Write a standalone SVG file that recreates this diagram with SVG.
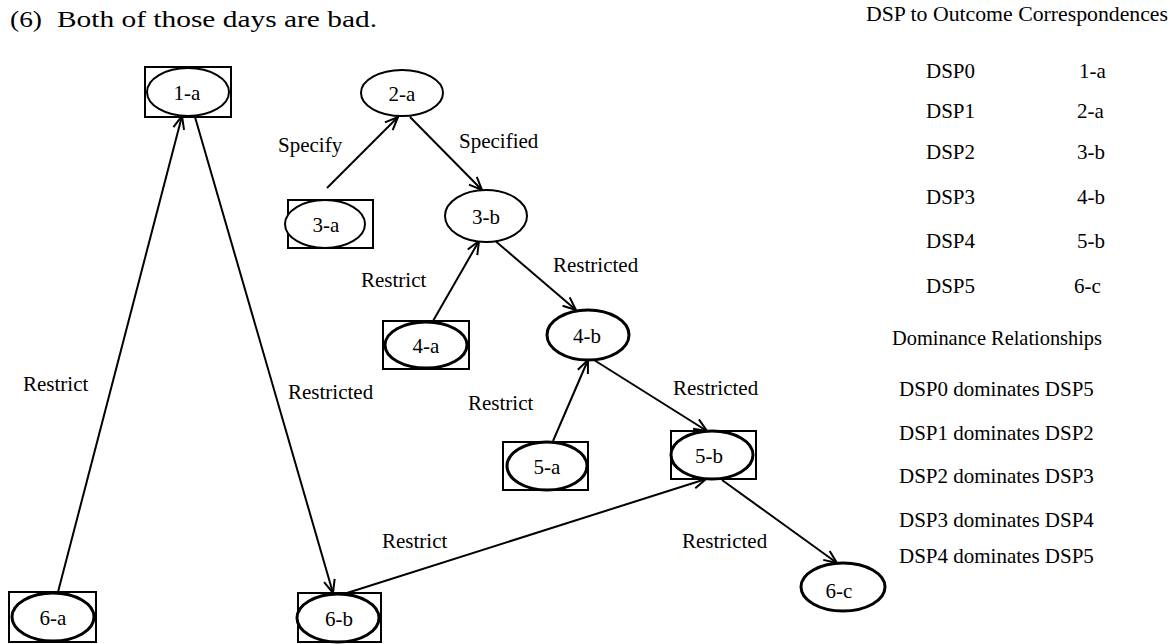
<svg xmlns="http://www.w3.org/2000/svg" width="1170" height="644" viewBox="0 0 1170 644" font-family="'Liberation Serif', 'DejaVu Serif', 'Times New Roman', Times, serif">
<style>
.t{font-size:23px}
.lbl{font-size:21px}
.nl{font-size:21px;text-anchor:middle}
.tab{font-size:21px}
.box{fill:none;stroke:#000;stroke-width:2}
.e1{fill:#fff;stroke:#000;stroke-width:2}
.e2{fill:#fff;stroke:#000;stroke-width:3}
.edge{stroke:#000;stroke-width:2;fill:none;marker-end:url(#arr)}
</style>
<defs>
<marker id="arr" viewBox="-14 -8 16 16" refX="0" refY="0" markerWidth="16" markerHeight="16" markerUnits="userSpaceOnUse" orient="auto">
<path d="M-13,-5.5 L0,0 L-13,5.5" fill="none" stroke="#000" stroke-width="2"/>
</marker>
</defs>
<rect width="1170" height="644" fill="#fff"/>
<text class="t" y="27"><tspan x="10" textLength="32" lengthAdjust="spacingAndGlyphs">(6)</tspan><tspan x="57" textLength="320" lengthAdjust="spacingAndGlyphs">Both of those days are bad.</tspan></text>

<g id="connectors">
<line class="edge" x1="58" y1="592" x2="182" y2="116"/>
<line class="edge" x1="195" y1="117" x2="333" y2="593"/>
<line class="edge" x1="347" y1="593" x2="706" y2="479"/>
<line class="edge" x1="327" y1="188" x2="398" y2="117"/>
<line class="edge" x1="410" y1="117" x2="482" y2="190"/>
<line class="edge" x1="433" y1="321" x2="479" y2="241"/>
<line class="edge" x1="493" y1="239" x2="576" y2="310"/>
<line class="edge" x1="553" y1="441" x2="588" y2="360"/>
<line class="edge" x1="594" y1="360" x2="707" y2="431"/>
<line class="edge" x1="722" y1="480" x2="837" y2="563"/>
<text class="lbl" x="23" y="391">Restrict</text>
<text class="lbl" x="288" y="399">Restricted</text>
<text class="lbl" x="382" y="548">Restrict</text>
<text class="lbl" x="278" y="152">Specify</text>
<text class="lbl" x="459" y="148">Specified</text>
<text class="lbl" x="361" y="287">Restrict</text>
<text class="lbl" x="553" y="272">Restricted</text>
<text class="lbl" x="468" y="410">Restrict</text>
<text class="lbl" x="673" y="395">Restricted</text>
<text class="lbl" x="682" y="548">Restricted</text>
</g>

<g id="n1a"><rect class="box" x="145" y="67" width="86" height="50"/><ellipse class="e1" cx="188" cy="92" rx="41" ry="24"/><text class="nl" x="187" y="100">1-a</text></g>
<g id="n2a"><ellipse class="e1" cx="402" cy="93" rx="41" ry="23"/><text class="nl" x="402" y="101">2-a</text></g>
<g id="n3a"><rect class="box" x="288" y="200" width="85" height="48"/><ellipse class="e1" cx="325" cy="224" rx="40" ry="24"/><text class="nl" x="326" y="232">3-a</text></g>
<g id="n3b"><ellipse class="e1" cx="486" cy="216" rx="41" ry="26"/><text class="nl" x="486" y="224">3-b</text></g>
<g id="n4a"><rect class="box" x="383" y="321" width="86" height="48"/><ellipse class="e2" cx="426" cy="345" rx="41" ry="23"/><text class="nl" x="426" y="353">4-a</text></g>
<g id="n4b"><ellipse class="e2" cx="588" cy="335" rx="41" ry="25"/><text class="nl" x="587" y="343">4-b</text></g>
<g id="n5a"><rect class="box" x="503" y="442" width="85" height="48"/><ellipse class="e2" cx="547" cy="466" rx="40" ry="24"/><text class="nl" x="547" y="474">5-a</text></g>
<g id="n5b"><rect class="box" x="671" y="431" width="85" height="48"/><ellipse class="e2" cx="712" cy="455" rx="41" ry="24"/><text class="nl" x="709" y="463">5-b</text></g>
<g id="n6c"><ellipse class="e2" cx="843" cy="587" rx="42" ry="24"/><text class="nl" x="839" y="598">6-c</text></g>
<g id="n6a"><rect class="box" x="9" y="592" width="87" height="50"/><ellipse class="e2" cx="53" cy="617" rx="41" ry="24"/><text class="nl" x="53" y="625">6-a</text></g>
<g id="n6b"><rect class="box" x="298" y="593" width="83" height="49"/><ellipse class="e2" cx="338" cy="618" rx="41" ry="24"/><text class="nl" x="339" y="626">6-b</text></g>

<g id="legend">
<text class="tab" x="866" y="21" textLength="302" lengthAdjust="spacingAndGlyphs">DSP to Outcome Correspondences</text>
<text class="tab" x="926" y="78">DSP0</text><text class="tab" x="1079" y="78">1-a</text>
<text class="tab" x="926" y="118">DSP1</text><text class="tab" x="1077" y="118">2-a</text>
<text class="tab" x="926" y="159">DSP2</text><text class="tab" x="1077" y="159">3-b</text>
<text class="tab" x="926" y="204">DSP3</text><text class="tab" x="1077" y="204">4-b</text>
<text class="tab" x="926" y="248">DSP4</text><text class="tab" x="1077" y="248">5-b</text>
<text class="tab" x="926" y="293">DSP5</text><text class="tab" x="1074" y="293">6-c</text>
<text class="tab" x="892" y="345" textLength="210" lengthAdjust="spacingAndGlyphs">Dominance Relationships</text>
<text class="tab" x="899" y="396">DSP0 dominates DSP5</text>
<text class="tab" x="899" y="440">DSP1 dominates DSP2</text>
<text class="tab" x="899" y="483">DSP2 dominates DSP3</text>
<text class="tab" x="899" y="527">DSP3 dominates DSP4</text>
<text class="tab" x="899" y="563">DSP4 dominates DSP5</text>
</g>
</svg>
